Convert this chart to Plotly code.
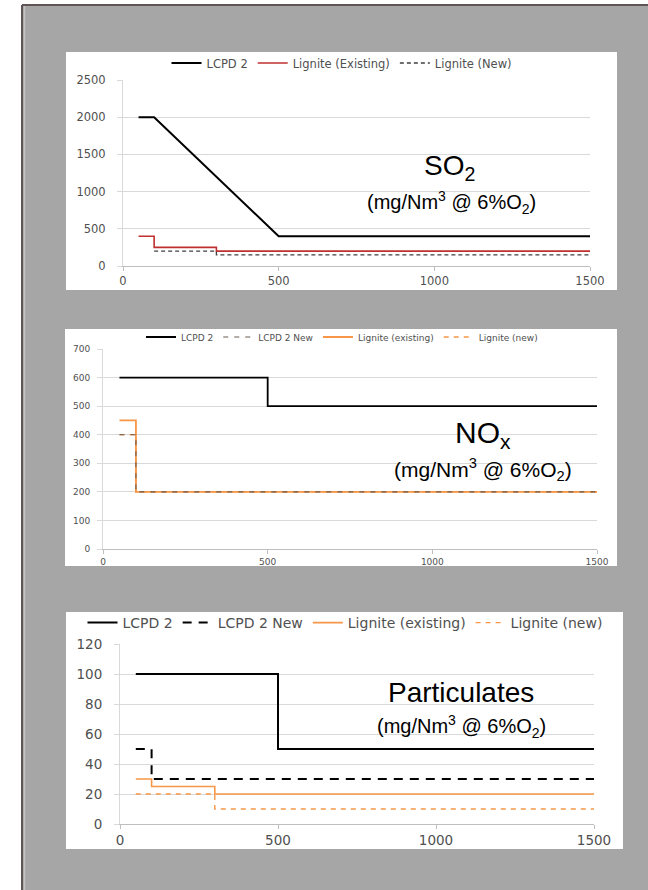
import plotly.graph_objects as go

# ---------------- data ----------------
# SO2 panel
so2_lcpd2_x = [50, 100, 500, 1500]
so2_lcpd2_y = [2000, 2000, 400, 400]
so2_lig_exist_x = [50, 100, 100, 300, 300, 1500]
so2_lig_exist_y = [400, 400, 250, 250, 200, 200]
so2_lig_new_x = [100, 300, 300, 1500]
so2_lig_new_y = [200, 200, 150, 150]

# NOx panel
nox_lcpd2_x = [50, 500, 500, 1500]
nox_lcpd2_y = [600, 600, 500, 500]
nox_lcpd2_new_x = [50, 100, 100, 1500]
nox_lcpd2_new_y = [400, 400, 200, 200]
nox_lig_exist_x = [50, 100, 100, 1500]
nox_lig_exist_y = [450, 450, 200, 200]
nox_lig_new_x = [50, 100, 100, 1500]
nox_lig_new_y = [400, 400, 200, 200]

# Particulates panel
pm_lcpd2_x = [50, 500, 500, 1500]
pm_lcpd2_y = [100, 100, 50, 50]
pm_lcpd2_new_x = [50, 100, 100, 1500]
pm_lcpd2_new_y = [50, 50, 30, 30]
pm_lig_exist_x = [50, 100, 100, 300, 300, 1500]
pm_lig_exist_y = [30, 30, 25, 25, 20, 20]
pm_lig_new_x = [50, 300, 300, 1500]
pm_lig_new_y = [20, 20, 10, 10]

x_ticks = [0, 500, 1000, 1500]
so2_y_ticks = [0, 500, 1000, 1500, 2000, 2500]
nox_y_ticks = [0, 100, 200, 300, 400, 500, 600, 700]
pm_y_ticks = [0, 20, 40, 60, 80, 100, 120]

# ---------------- styles ----------------
W, H = 648, 890
BLACK = "#000000"
RED = "#c0302e"
ORANGE = "#f79646"
DGRAY = "#404040"
TXT = "#505050"
GRID = "#d9d9d9"
AXL = "#bfbfbf"
TICKFONT = "DejaVu Sans"
ANNFONT = "Arial, Liberation Sans, sans-serif"


def px(x):
    return x / W


def py(y):
    return 1 - y / H


fig = go.Figure()

# SO2
fig.add_trace(go.Scatter(x=so2_lcpd2_x, y=so2_lcpd2_y, mode="lines", name="LCPD 2",
                         line=dict(color=BLACK, width=2), xaxis="x", yaxis="y", legend="legend"))
fig.add_trace(go.Scatter(x=so2_lig_exist_x, y=so2_lig_exist_y, mode="lines", name="Lignite (Existing)",
                         line=dict(color=RED, width=1.6), xaxis="x", yaxis="y", legend="legend"))
fig.add_trace(go.Scatter(x=so2_lig_new_x, y=so2_lig_new_y, mode="lines", name="Lignite (New)",
                         line=dict(color=DGRAY, width=1.3, dash="4px,3px"), xaxis="x", yaxis="y", legend="legend"))

# NOx (LCPD 2 New drawn last so its dashes show on the shared 200 line; legend order kept by rank)
fig.add_trace(go.Scatter(x=nox_lcpd2_x, y=nox_lcpd2_y, mode="lines", name="LCPD 2", legendrank=1,
                         line=dict(color=BLACK, width=1.8), xaxis="x2", yaxis="y2", legend="legend2"))
fig.add_trace(go.Scatter(x=nox_lig_exist_x, y=nox_lig_exist_y, mode="lines", name="Lignite (existing)",
                         legendrank=3,
                         line=dict(color=ORANGE, width=1.8), xaxis="x2", yaxis="y2", legend="legend2"))
fig.add_trace(go.Scatter(x=nox_lig_new_x, y=nox_lig_new_y, mode="lines", name="Lignite (new)", legendrank=4,
                         line=dict(color=ORANGE, width=1.3, dash="5px,5px"), xaxis="x2", yaxis="y2", legend="legend2"))
fig.add_trace(go.Scatter(x=nox_lcpd2_new_x, y=nox_lcpd2_new_y, mode="lines", name="LCPD 2 New", legendrank=2,
                         line=dict(color="#6b5a4e", width=1.1, dash="5px,6px"), xaxis="x2", yaxis="y2",
                         legend="legend2"))

# Particulates
fig.add_trace(go.Scatter(x=pm_lcpd2_x, y=pm_lcpd2_y, mode="lines", name="LCPD 2",
                         line=dict(color=BLACK, width=2), xaxis="x3", yaxis="y3", legend="legend3"))
fig.add_trace(go.Scatter(x=pm_lcpd2_new_x, y=pm_lcpd2_new_y, mode="lines", name="LCPD 2 New",
                         line=dict(color=BLACK, width=2, dash="9px,7px"), xaxis="x3", yaxis="y3", legend="legend3"))
fig.add_trace(go.Scatter(x=pm_lig_exist_x, y=pm_lig_exist_y, mode="lines", name="Lignite (existing)",
                         line=dict(color=ORANGE, width=1.6), xaxis="x3", yaxis="y3", legend="legend3"))
fig.add_trace(go.Scatter(x=pm_lig_new_x, y=pm_lig_new_y, mode="lines", name="Lignite (new)",
                         line=dict(color=ORANGE, width=1.4, dash="5px,5px"), xaxis="x3", yaxis="y3", legend="legend3"))


def xaxis_cfg(dom, anchor, size):
    return dict(domain=dom, anchor=anchor, range=[0, 1500], tickvals=x_ticks,
                showgrid=False, zeroline=False, showline=True, linecolor=AXL, linewidth=1,
                ticks="outside", ticklen=4, tickcolor=AXL,
                tickfont=dict(family=TICKFONT, size=size, color=TXT), fixedrange=True)


def yaxis_cfg(dom, anchor, rng, vals, size, standoff):
    return dict(domain=dom, anchor=anchor, range=rng, tickvals=vals,
                showgrid=True, gridcolor=GRID, gridwidth=1, zeroline=False,
                showline=True, linecolor=GRID, linewidth=1,
                ticks="outside", ticklen=5, tickcolor=GRID, ticklabelstandoff=standoff,
                tickfont=dict(family=TICKFONT, size=size, color=TXT), fixedrange=True)


# panel plot areas (pixels)
so2_box = (123, 590, 80, 266)
nox_box = (103, 597, 349, 549)
pm_box = (120, 594, 644, 824)


def dom_x(b):
    return [px(b[0]), px(b[1])]


def dom_y(b):
    return [py(b[3]), py(b[2])]


fig.update_layout(
    autosize=True, margin=dict(l=0, r=0, t=0, b=0, autoexpand=False),
    paper_bgcolor="white", plot_bgcolor="white", showlegend=True,
    xaxis=xaxis_cfg(dom_x(so2_box), "y", 11.5),
    yaxis=yaxis_cfg(dom_y(so2_box), "x", [0, 2500], so2_y_ticks, 11.5, 9),
    xaxis2=xaxis_cfg(dom_x(nox_box), "y2", 9),
    yaxis2=yaxis_cfg(dom_y(nox_box), "x2", [0, 700], nox_y_ticks, 9, 5),
    xaxis3=xaxis_cfg(dom_x(pm_box), "y3", 13.5),
    yaxis3=yaxis_cfg(dom_y(pm_box), "x3", [0, 120], pm_y_ticks, 13.5, 9),
    legend=dict(orientation="h", x=px(342), xanchor="center", y=py(63), yanchor="middle",
                font=dict(family=TICKFONT, size=11.5, color=TXT), bgcolor="rgba(0,0,0,0)",
                itemwidth=30, tracegroupgap=0),
    legend2=dict(orientation="h", x=px(342), xanchor="center", y=py(337), yanchor="middle",
                 font=dict(family=TICKFONT, size=9, color=TXT), bgcolor="rgba(0,0,0,0)",
                 itemwidth=30, tracegroupgap=0),
    legend3=dict(orientation="h", x=px(345), xanchor="center", y=py(623), yanchor="middle",
                 font=dict(family=TICKFONT, size=14, color=TXT), bgcolor="rgba(0,0,0,0)",
                 itemwidth=30, tracegroupgap=0),
)

# background frame and white panels
shapes = [
    dict(type="rect", xref="paper", yref="paper", x0=px(22), x1=1, y0=0, y1=py(5),
         fillcolor="#a6a6a6", line=dict(width=0), layer="below"),
    dict(type="line", xref="paper", yref="paper", x0=px(22), x1=1, y0=py(5), y1=py(5),
         line=dict(color="#5e5654", width=2), layer="below"),
    dict(type="line", xref="paper", yref="paper", x0=px(22), x1=px(22), y0=0, y1=py(5),
         line=dict(color="#5e5654", width=2), layer="below"),
    dict(type="line", xref="paper", yref="paper", x0=px(24.5), x1=px(24.5), y0=0, y1=py(6),
         line=dict(color="#c4c4c4", width=1.5), layer="below"),
    dict(type="rect", xref="paper", yref="paper", x0=px(66), x1=px(617), y0=py(290), y1=py(52),
         fillcolor="white", line=dict(width=0), layer="below"),
    dict(type="rect", xref="paper", yref="paper", x0=px(65), x1=px(617), y0=py(566), y1=py(329),
         fillcolor="white", line=dict(width=0), layer="below"),
    dict(type="rect", xref="paper", yref="paper", x0=px(66), x1=px(623), y0=py(849), y1=py(612),
         fillcolor="white", line=dict(width=0), layer="below"),
]
fig.update_layout(shapes=shapes)

anns = [
    dict(x=1050, y=1324, xref="x", yref="y", text="SO<sub>2</sub>", showarrow=False,
         font=dict(family=ANNFONT, size=28, color="black")),
    dict(x=1055, y=852, xref="x", yref="y", text="(mg/Nm<sup>3</sup> @ 6%O<sub>2</sub>)", showarrow=False,
         font=dict(family=ANNFONT, size=20, color="black")),
    dict(x=1155, y=400, xref="x2", yref="y2", text="NO<sub>x</sub>", showarrow=False,
         font=dict(family=ANNFONT, size=30, color="black")),
    dict(x=1155, y=278, xref="x2", yref="y2", text="(mg/Nm<sup>3</sup> @ 6%O<sub>2</sub>)", showarrow=False,
         font=dict(family=ANNFONT, size=21, color="black")),
    dict(x=1080, y=88, xref="x3", yref="y3", text="Particulates", showarrow=False,
         font=dict(family=ANNFONT, size=28, color="black")),
    dict(x=1080, y=65, xref="x3", yref="y3", text="(mg/Nm<sup>3</sup> @ 6%O<sub>2</sub>)", showarrow=False,
         font=dict(family=ANNFONT, size=20, color="black")),
]
fig.update_layout(annotations=anns)

fig.write_html(
    "out.html",
    config={"displayModeBar": False, "staticPlot": True},
    default_width="648px; position:absolute; left:0px; top:0px",
    default_height="890px",
    post_script="document.body.style.margin='0px';document.body.style.overflow='hidden';",
)
